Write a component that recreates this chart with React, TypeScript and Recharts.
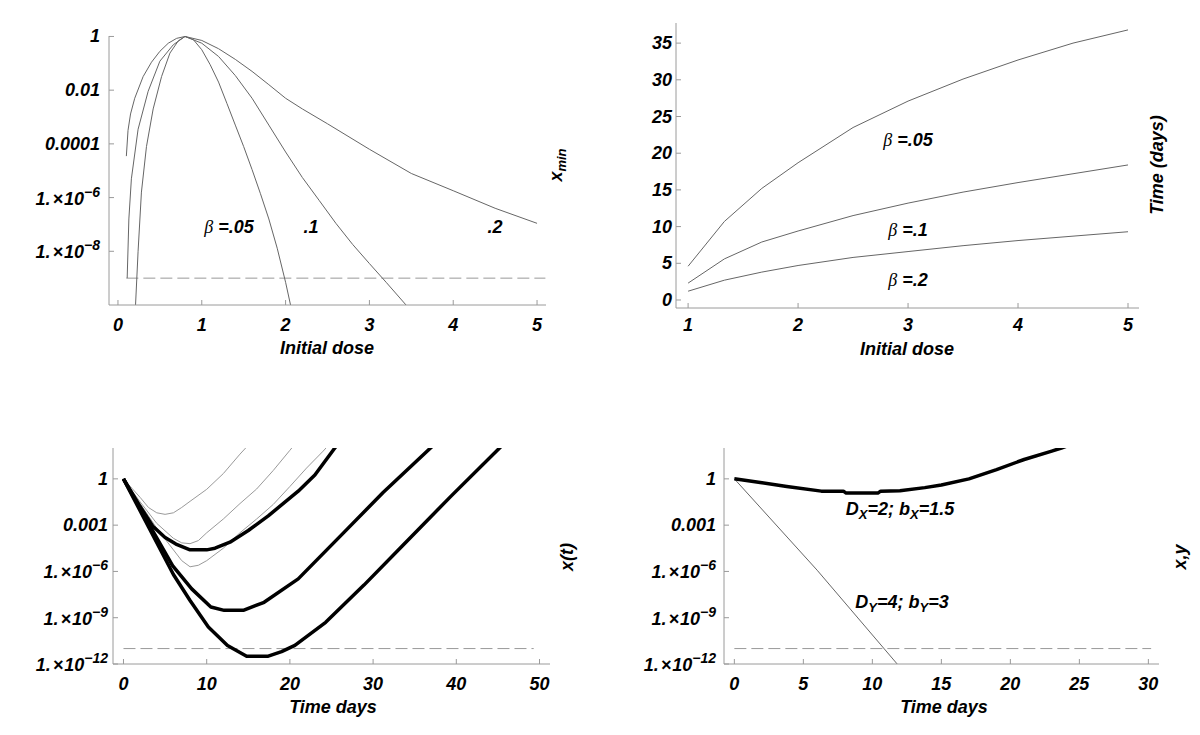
import React from 'react';
import { LineChart, Line, XAxis, YAxis, ReferenceLine } from 'recharts';

const FONT = '"Liberation Sans", Arial, Helvetica, sans-serif';

// top left: x_min against initial dose (log scale), one curve per beta
const doseB05 = [0.205, 0.24, 0.28, 0.34, 0.42, 0.52, 0.62, 0.72, 0.8, 0.9, 1.0, 1.1, 1.2, 1.3, 1.4, 1.5, 1.6, 1.7, 1.8, 1.9, 2.0, 2.08];
const xminB05 = [5e-11, 1e-8, 1.6e-6, 7.9e-5, 2e-3, 0.032, 0.24, 0.69, 1, 0.76, 0.32, 0.089, 0.02, 3.2e-3, 5e-4, 7.9e-5, 1.1e-5, 1.4e-6, 1.6e-7, 1.3e-8, 7e-10, 5e-11];
const doseB1 = [0.11, 0.13, 0.16, 0.24, 0.36, 0.5, 0.66, 0.8, 1.0, 1.2, 1.4, 1.6, 1.8, 2.0, 2.2, 2.4, 2.6, 2.8, 3.0, 3.2, 3.45];
const xminB1 = [1e-9, 1.6e-7, 5e-6, 3.5e-4, 9.1e-3, 0.12, 0.49, 1, 0.56, 0.18, 0.035, 5e-3, 5e-4, 5e-5, 5.6e-6, 7.9e-7, 1.1e-7, 1.8e-8, 3.5e-9, 7e-10, 9e-11];
const doseB2 = [0.1, 0.12, 0.15, 0.2, 0.3, 0.4, 0.5, 0.6, 0.7, 0.8, 1.0, 1.2, 1.4, 1.6, 1.8, 2.0, 2.2, 2.5, 3.0, 3.5, 4.0, 4.5, 5.0];
const xminB2 = [3.5e-5, 3.2e-4, 1.3e-3, 5e-3, 0.032, 0.11, 0.28, 0.56, 0.85, 1, 0.71, 0.35, 0.14, 0.05, 0.016, 5e-3, 2e-3, 5.6e-4, 6.3e-5, 7.9e-6, 1.8e-6, 4e-7, 1.1e-7];
const xminTicks = [1, 0.01, 1e-4, 1e-6, 1e-8];
const doseTicks = [0, 1, 2, 3, 4, 5];
const cureLevel = 1e-9;

// top right: time to reach minimum
const doseGrid = [1, 1.33, 1.67, 2, 2.5, 3, 3.5, 4, 4.5, 5];
const timeB05 = [4.6, 10.7, 15.2, 18.7, 23.5, 27.1, 30.1, 32.7, 35.0, 36.8];
const timeB1 = [2.3, 5.6, 7.9, 9.4, 11.5, 13.2, 14.7, 16.0, 17.2, 18.4];
const timeB2 = [1.2, 2.7, 3.8, 4.7, 5.8, 6.6, 7.4, 8.1, 8.7, 9.3];
const timeTicks = [0, 5, 10, 15, 20, 25, 30, 35];
const doseTicks2 = [1, 2, 3, 4, 5];

// bottom left: x(t), thin = gray runs, thick = black runs
const tThin1 = [0, 1, 2, 3, 4, 5, 6, 7, 8, 10, 12, 14, 15.2];
const xThin1 = [1, 0.25, 0.063, 0.014, 6.3e-3, 5e-3, 6.3e-3, 0.014, 0.035, 0.21, 2.2, 40, 200];
const tThin2 = [0, 2, 4, 6, 7, 8, 9, 10, 12, 14, 16, 18, 20, 21];
const xThin2 = [1, 0.032, 1.3e-3, 1.4e-4, 7.1e-5, 6.3e-5, 1e-4, 3.2e-4, 2.5e-3, 0.025, 0.22, 3.5, 71, 316];
const tThin3 = [0, 2, 4, 6, 7, 8, 9, 10, 12, 14, 16, 18, 20, 22, 24, 25];
const xThin3 = [1, 0.025, 6.3e-4, 2.5e-5, 5e-6, 2e-6, 2.5e-6, 5e-6, 3.2e-5, 3.2e-4, 2.5e-3, 0.022, 0.32, 5, 63, 250];
const tThick1 = [0, 2, 3.5, 5, 6.3, 8, 10, 11, 12.8, 15, 17.4, 21, 23, 25.4, 26];
const xThick1 = [1, 0.016, 8.9e-4, 1.6e-4, 5.9e-5, 2.5e-5, 2.5e-5, 3.2e-5, 7.9e-5, 4.5e-4, 4e-3, 0.16, 1.8, 100, 250];
const tThick2 = [0, 3, 5.9, 8.2, 10.5, 12.1, 14.4, 16.9, 21, 26.5, 31.2, 36.9, 37.5];
const xThick2 = [1, 1.3e-3, 2.4e-6, 7.4e-8, 4.9e-9, 3e-9, 3e-9, 1e-8, 3.3e-7, 3.4e-4, 0.13, 100, 200];
const tThick3 = [0, 3, 6, 8, 10.2, 12.5, 14.8, 17.4, 19, 20.6, 24.3, 28.9, 33.5, 39.4, 45.2, 46];
const xThick3 = [1, 7.9e-4, 6.3e-7, 1.3e-8, 2.5e-10, 1.6e-11, 3.2e-12, 3.2e-12, 6.3e-12, 1.6e-11, 5e-10, 1.3e-7, 4.5e-5, 0.079, 100, 280];
const dayTicks50 = [0, 10, 20, 30, 40, 50];
const logTicks12 = [1, 1e-3, 1e-6, 1e-9, 1e-12];
const lowLevel = 1e-11;

// bottom right: two populations x and y
const tX = [0, 2, 3.8, 6.3, 7.9, 8.1, 10.4, 10.6, 12, 13.8, 15, 17, 19, 21, 23, 23.7, 24.5];
const popX = [1, 0.56, 0.32, 0.16, 0.16, 0.12, 0.12, 0.16, 0.17, 0.27, 0.4, 1, 4, 18, 63, 100, 180];
const tY = [0, 6, 11.8, 12.5];
const popY = [1, 1.2e-6, 1e-12, 2e-13];
const dayTicks30 = [0, 5, 10, 15, 20, 25, 30];

// minor tick marks on the frames
const steps = (from: number, to: number, by: number) =>
  Array.from({ length: Math.round((to - from) / by) + 1 }, (_, i) => +(from + i * by).toFixed(4));
const logMinor = (majors: number[], decades: number[]) =>
  majors.flatMap((m) => [0.2, 0.3, 0.4, 0.5, 0.6, 0.7, 0.8, 0.9].map((f) => m * f)).concat(decades);

const pairs = (xs: number[], ys: number[]) => xs.map((x, i) => ({ x, y: ys[i] }));

const FRAME = '#9a9a9a';
const MINOR = '#b8b8b8';
const tickFont = { fontSize: 18, fontWeight: 700, fontStyle: 'italic', fill: '#000' };

function LogTick(props: any) {
  const { x, y, payload } = props;
  const v = payload.value as number;
  const exp = Math.round(Math.log10(v));
  if (exp >= -4) {
    return (
      <text x={x} y={y} dy={6} textAnchor="end" {...tickFont}>
        {String(v)}
      </text>
    );
  }
  return (
    <text x={x} y={y} dy={7} textAnchor="end" {...tickFont}>
      1.<tspan dx={2}>×</tspan><tspan dx={1}>10</tspan>
      <tspan dy={-8} fontSize={14}>{'\u2212' + -exp}</tspan>
    </text>
  );
}

function PlainTick(props: any) {
  const { x, y, payload } = props;
  return (
    <text x={x} y={y} dy={6} textAnchor="end" {...tickFont}>
      {payload.value}
    </text>
  );
}

const NoLabel = () => <g />;

function Tag({ x, y, rotate, children }: { x: number; y: number; rotate?: boolean; children: React.ReactNode }) {
  return (
    <div
      style={{
        position: 'absolute',
        left: x,
        top: y,
        transform: `translate(-50%, -50%)${rotate ? ' rotate(-90deg)' : ''}`,
        fontSize: 18,
        fontWeight: 700,
        fontStyle: 'italic',
        whiteSpace: 'nowrap',
        lineHeight: 1,
      }}
    >
      {children}
    </div>
  );
}

const beta = <span style={{ fontFamily: '"Liberation Serif", serif', fontWeight: 400 }}>β</span>;
const sub = (s: string) => <sub style={{ fontSize: 13, verticalAlign: -4 }}>{s}</sub>;

// top/right frame edges plus inward minor ticks on all four sides
function frameAxes(xDom: number[], xTicks: number[], xMinor: number[], yDom: number[], yTicks: number[], yMinor: number[], log: boolean) {
  const yScale = log ? 'log' : 'auto';
  return [
    <XAxis key="top" xAxisId="top" orientation="top" type="number" domain={xDom} allowDataOverflow ticks={xTicks} interval={0} tick={NoLabel} height={0} tickSize={-5} stroke={FRAME} />,
    <YAxis key="right" yAxisId="right" orientation="right" type="number" scale={yScale} domain={yDom} allowDataOverflow ticks={yTicks} interval={0} tick={NoLabel} width={0} tickSize={-5} stroke={FRAME} />,
    <XAxis key="mb" xAxisId="mb" orientation="bottom" mirror type="number" domain={xDom} allowDataOverflow ticks={xMinor} interval={0} tick={NoLabel} axisLine={false} height={0} tickSize={3} stroke={MINOR} />,
    <XAxis key="mt" xAxisId="mt" orientation="top" mirror type="number" domain={xDom} allowDataOverflow ticks={xMinor} interval={0} tick={NoLabel} axisLine={false} height={0} tickSize={3} stroke={MINOR} />,
    <YAxis key="ml" yAxisId="ml" orientation="left" mirror type="number" scale={yScale} domain={yDom} allowDataOverflow ticks={yMinor} interval={0} tick={NoLabel} axisLine={false} width={0} tickSize={3} stroke={MINOR} />,
    <YAxis key="mr" yAxisId="mr" orientation="right" mirror type="number" scale={yScale} domain={yDom} allowDataOverflow ticks={yMinor} interval={0} tick={NoLabel} axisLine={false} width={0} tickSize={3} stroke={MINOR} />,
  ];
}

export default function App() {
  const dom1x = [-0.107, 5.107];
  const dom1y = [1e-10, 1.04];
  const dom2x = [0.89, 5.1];
  const dom2y = [-1.09, 37.74];
  const dom3x = [-1.26, 51.26];
  const dom4x = [-0.75, 30.77];
  const domLow = [1e-12, 100];

  const minor1x = steps(0, 5, 0.2);
  const minor1y = logMinor(xminTicks, [0.1, 1e-3, 1e-5, 1e-7, 1e-9]);
  const minor2x = steps(1, 5, 0.2);
  const minor2y = steps(0, 37, 1);
  const minor3x = steps(0, 50, 2);
  const minor4x = steps(0, 30, 1);
  const minorLow = logMinor(logTicks12.slice(0, 4), [0.1, 0.01, 1e-4, 1e-5, 1e-7, 1e-8, 1e-10, 1e-11]);

  const dash = '12 5';

  return (
    <div style={{ position: 'absolute', left: 0, top: 0, width: 1200, height: 735, background: '#fff', fontFamily: FONT }}>
      {/* top left */}
      <div style={{ position: 'absolute', left: 0, top: 0 }}>
        <LineChart width={600} height={370} margin={{ top: 36, right: 54, bottom: 25, left: 9 }}>
          <XAxis type="number" dataKey="x" domain={dom1x} allowDataOverflow ticks={doseTicks} interval={0} tick={tickFont} height={40} tickSize={-5} tickMargin={18} stroke={FRAME} />
          <YAxis type="number" scale="log" domain={dom1y} allowDataOverflow ticks={xminTicks} interval={0} tick={<LogTick />} width={100} tickSize={-5} tickMargin={14} stroke={FRAME} />
          {frameAxes(dom1x, doseTicks, minor1x, dom1y, xminTicks, minor1y, true)}
          <ReferenceLine segment={[{ x: 0.1, y: cureLevel }, { x: 5.1, y: cureLevel }]} stroke="#999" strokeDasharray={dash} />
          <Line data={pairs(doseB05, xminB05)} dataKey="y" type="linear" dot={false} stroke="#666" strokeWidth={1} isAnimationActive={false} />
          <Line data={pairs(doseB1, xminB1)} dataKey="y" type="linear" dot={false} stroke="#666" strokeWidth={1} isAnimationActive={false} />
          <Line data={pairs(doseB2, xminB2)} dataKey="y" type="linear" dot={false} stroke="#666" strokeWidth={1} isAnimationActive={false} />
        </LineChart>
      </div>

      {/* top right */}
      <div style={{ position: 'absolute', left: 600, top: 0 }}>
        <LineChart width={600} height={370} margin={{ top: 23, right: 61, bottom: 22, left: 16 }}>
          <XAxis type="number" dataKey="x" domain={dom2x} allowDataOverflow ticks={doseTicks2} interval={0} tick={tickFont} height={40} tickSize={-5} tickMargin={15} stroke={FRAME} />
          <YAxis type="number" domain={dom2y} allowDataOverflow ticks={timeTicks} interval={0} tick={<PlainTick />} width={60} tickSize={-5} tickMargin={9} stroke={FRAME} />
          {frameAxes(dom2x, doseTicks2, minor2x, dom2y, timeTicks, minor2y, false)}
          <Line data={pairs(doseGrid, timeB05)} dataKey="y" type="linear" dot={false} stroke="#666" strokeWidth={1} isAnimationActive={false} />
          <Line data={pairs(doseGrid, timeB1)} dataKey="y" type="linear" dot={false} stroke="#666" strokeWidth={1} isAnimationActive={false} />
          <Line data={pairs(doseGrid, timeB2)} dataKey="y" type="linear" dot={false} stroke="#666" strokeWidth={1} isAnimationActive={false} />
        </LineChart>
      </div>

      {/* bottom left */}
      <div style={{ position: 'absolute', left: 0, top: 400 }}>
        <LineChart width={600} height={335} margin={{ top: 48, right: 50, bottom: 31, left: 13 }}>
          <XAxis type="number" dataKey="x" domain={dom3x} allowDataOverflow ticks={dayTicks50} interval={0} tick={tickFont} height={40} tickSize={-5} tickMargin={18} stroke={FRAME} />
          <YAxis type="number" scale="log" domain={domLow} allowDataOverflow ticks={logTicks12} interval={0} tick={<LogTick />} width={100} tickSize={-5} tickMargin={10} stroke={FRAME} />
          {frameAxes(dom3x, dayTicks50, minor3x, domLow, logTicks12, minorLow, true)}
          <ReferenceLine segment={[{ x: 0, y: lowLevel }, { x: 49.3, y: lowLevel }]} stroke="#999" strokeDasharray={dash} />
          <Line data={pairs(tThin1, xThin1)} dataKey="y" type="linear" dot={false} stroke="#9a9a9a" strokeWidth={1} isAnimationActive={false} />
          <Line data={pairs(tThin2, xThin2)} dataKey="y" type="linear" dot={false} stroke="#9a9a9a" strokeWidth={1} isAnimationActive={false} />
          <Line data={pairs(tThin3, xThin3)} dataKey="y" type="linear" dot={false} stroke="#9a9a9a" strokeWidth={1} isAnimationActive={false} />
          <Line data={pairs(tThick1, xThick1)} dataKey="y" type="linear" dot={false} stroke="#000" strokeWidth={3.5} strokeLinejoin="round" isAnimationActive={false} />
          <Line data={pairs(tThick2, xThick2)} dataKey="y" type="linear" dot={false} stroke="#000" strokeWidth={3.5} strokeLinejoin="round" isAnimationActive={false} />
          <Line data={pairs(tThick3, xThick3)} dataKey="y" type="linear" dot={false} stroke="#000" strokeWidth={3.5} strokeLinejoin="round" isAnimationActive={false} />
        </LineChart>
      </div>

      {/* bottom right */}
      <div style={{ position: 'absolute', left: 600, top: 400 }}>
        <LineChart width={600} height={335} margin={{ top: 48, right: 41, bottom: 31, left: 24 }}>
          <XAxis type="number" dataKey="x" domain={dom4x} allowDataOverflow ticks={dayTicks30} interval={0} tick={tickFont} height={40} tickSize={-5} tickMargin={18} stroke={FRAME} />
          <YAxis type="number" scale="log" domain={domLow} allowDataOverflow ticks={logTicks12} interval={0} tick={<LogTick />} width={100} tickSize={-5} tickMargin={13} stroke={FRAME} />
          {frameAxes(dom4x, dayTicks30, minor4x, domLow, logTicks12, minorLow, true)}
          <ReferenceLine segment={[{ x: 0, y: lowLevel }, { x: 30.2, y: lowLevel }]} stroke="#999" strokeDasharray={dash} />
          <Line data={pairs(tY, popY)} dataKey="y" type="linear" dot={false} stroke="#666" strokeWidth={1} isAnimationActive={false} />
          <Line data={pairs(tX, popX)} dataKey="y" type="linear" dot={false} stroke="#000" strokeWidth={3.5} strokeLinejoin="round" isAnimationActive={false} />
        </LineChart>
      </div>

      {/* axis titles */}
      <Tag x={327} y={348}>Initial dose</Tag>
      <Tag x={557} y={165} rotate>x{sub('min')}</Tag>
      <Tag x={907} y={349}>Initial dose</Tag>
      <Tag x={1157} y={165} rotate>Time (days)</Tag>
      <Tag x={333} y={707}>Time days</Tag>
      <Tag x={567} y={557} rotate>x(t)</Tag>
      <Tag x={944} y={707}>Time days</Tag>
      <Tag x={1180} y={557} rotate>x,y</Tag>

      {/* curve annotations */}
      <Tag x={229} y={227}>{beta} =.05</Tag>
      <Tag x={311} y={227}>.1</Tag>
      <Tag x={495} y={227}>.2</Tag>
      <Tag x={908} y={140}>{beta} =.05</Tag>
      <Tag x={908} y={230}>{beta} =.1</Tag>
      <Tag x={908} y={280}>{beta} =.2</Tag>
      <Tag x={900} y={510}>D{sub('X')}=2; b{sub('X')}=1.5</Tag>
      <Tag x={902} y={603}>D{sub('Y')}=4; b{sub('Y')}=3</Tag>
    </div>
  );
}
